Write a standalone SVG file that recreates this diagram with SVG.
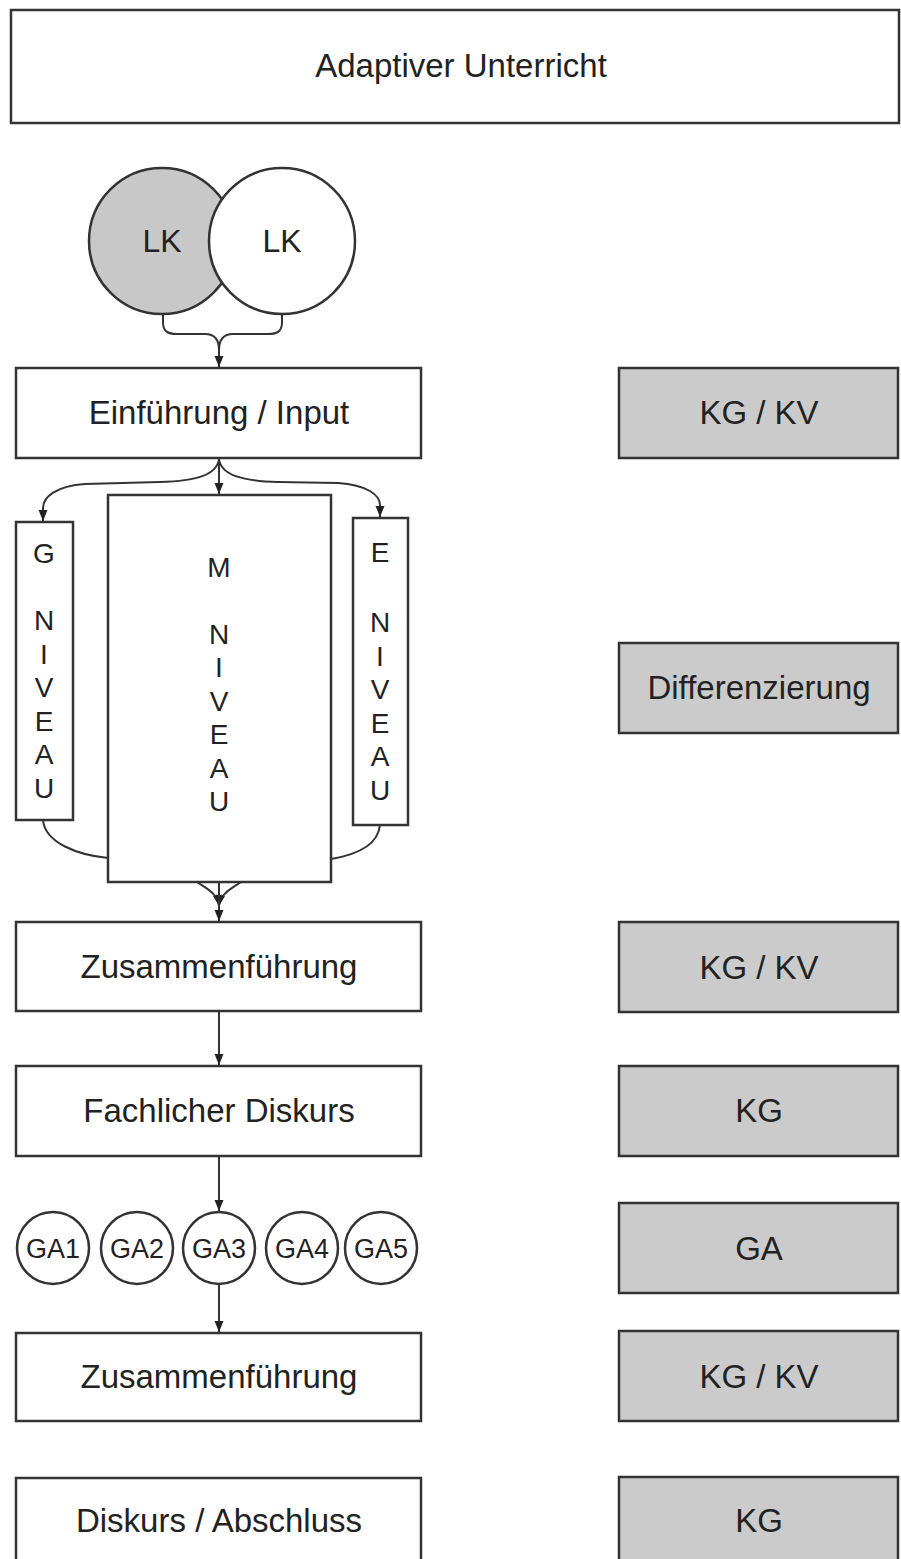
<svg xmlns="http://www.w3.org/2000/svg" width="901" height="1559" viewBox="0 0 901 1559">
<style>
.box{fill:#fff;stroke:#333;stroke-width:2.5}
.gray{fill:#cbcbcb;stroke:#333;stroke-width:2.5}
.t{font-family:"Liberation Sans",Arial,sans-serif;font-size:33px;fill:#222;text-anchor:middle}
.c{font-family:"Liberation Sans",Arial,sans-serif;font-size:28px;fill:#222;text-anchor:middle}
.ga{font-family:"Liberation Sans",Arial,sans-serif;font-size:27px;fill:#222;text-anchor:middle}
.ln{fill:none;stroke:#333;stroke-width:2}
</style>
<defs>
<marker id="ah" markerUnits="userSpaceOnUse" markerWidth="12" markerHeight="10" refX="11" refY="4.5" orient="auto">
<path d="M0,0 L11,4.5 L0,9 z" fill="#222"/>
</marker>
</defs>
<rect width="901" height="1559" fill="#fff"/>
<g id="adaptiver"><rect class="box" x="11" y="10" width="888" height="113"/><text class="t" x="461" y="77">Adaptiver Unterricht</text></g>
<g id="lk1"><circle cx="162" cy="241" r="73" fill="#c8c8c8" stroke="#333" stroke-width="2.5"/><text class="t" x="162" y="252" style="font-size:32px">LK</text></g>
<g id="lk2"><circle cx="282" cy="241" r="73" fill="#fff" stroke="#333" stroke-width="2.5"/><text class="t" x="282" y="252" style="font-size:32px">LK</text></g>
<g id="einfuehrung"><rect class="box" x="16" y="368" width="405" height="90"/><text class="t" x="219" y="424">Einführung / Input</text></g>
<g id="g-niveau"><rect class="box" x="16" y="522" width="57" height="298"/><text class="c"><tspan x="44" y="563">G</tspan><tspan x="44" y="630">N</tspan><tspan x="44" y="664">I</tspan><tspan x="44" y="697">V</tspan><tspan x="44" y="731">E</tspan><tspan x="44" y="764">A</tspan><tspan x="44" y="798">U</tspan></text></g>
<g id="m-niveau"><rect class="box" x="108" y="495" width="223" height="387"/><text class="c"><tspan x="219" y="577">M</tspan><tspan x="219" y="644">N</tspan><tspan x="219" y="677">I</tspan><tspan x="219" y="711">V</tspan><tspan x="219" y="744">E</tspan><tspan x="219" y="778">A</tspan><tspan x="219" y="811">U</tspan></text></g>
<g id="e-niveau"><rect class="box" x="353" y="518" width="55" height="307"/><text class="c"><tspan x="380" y="562">E</tspan><tspan x="380" y="632">N</tspan><tspan x="380" y="666">I</tspan><tspan x="380" y="699">V</tspan><tspan x="380" y="733">E</tspan><tspan x="380" y="766">A</tspan><tspan x="380" y="800">U</tspan></text></g>
<g id="zus1"><rect class="box" x="16" y="922" width="405" height="89"/><text class="t" x="219" y="978">Zusammenführung</text></g>
<g id="fach"><rect class="box" x="16" y="1066" width="405" height="90"/><text class="t" x="219" y="1122">Fachlicher Diskurs</text></g>
<g id="ga1"><circle cx="53" cy="1248" r="36" class="box"/><text class="ga" x="53" y="1258">GA1</text></g>
<g id="ga2"><circle cx="137" cy="1248" r="36" class="box"/><text class="ga" x="137" y="1258">GA2</text></g>
<g id="ga3"><circle cx="219" cy="1248" r="36" class="box"/><text class="ga" x="219" y="1258">GA3</text></g>
<g id="ga4"><circle cx="302" cy="1248" r="36" class="box"/><text class="ga" x="302" y="1258">GA4</text></g>
<g id="ga5"><circle cx="381" cy="1248" r="36" class="box"/><text class="ga" x="381" y="1258">GA5</text></g>
<g id="zus2"><rect class="box" x="16" y="1333" width="405" height="88"/><text class="t" x="219" y="1388">Zusammenführung</text></g>
<g id="diskurs"><rect class="box" x="16" y="1478" width="405" height="100"/><text class="t" x="219" y="1532">Diskurs / Abschluss</text></g>
<g id="r1"><rect class="gray" x="619" y="368" width="279" height="90"/><text class="t" x="759" y="424">KG / KV</text></g>
<g id="r2"><rect class="gray" x="619" y="643" width="279" height="90"/><text class="t" x="759" y="699">Differenzierung</text></g>
<g id="r3"><rect class="gray" x="619" y="922" width="279" height="90"/><text class="t" x="759" y="979">KG / KV</text></g>
<g id="r4"><rect class="gray" x="619" y="1066" width="279" height="90"/><text class="t" x="759" y="1122">KG</text></g>
<g id="r5"><rect class="gray" x="619" y="1203" width="279" height="90"/><text class="t" x="759" y="1260">GA</text></g>
<g id="r6"><rect class="gray" x="619" y="1331" width="279" height="90"/><text class="t" x="759" y="1388">KG / KV</text></g>
<g id="r7"><rect class="gray" x="619" y="1477" width="279" height="100"/><text class="t" x="759" y="1532">KG</text></g>
<g id="connectors">
<path class="ln" d="M163,314 L163,322 C163,331 167,334 177,334 L205,334 C215,334 219,340 219,350 L219,367" marker-end="url(#ah)"/>
<path class="ln" d="M282,314 L282,322 C282,331 278,334 268,334 L233,334 C223,334 219,340 219,350"/>
<path class="ln" d="M219,459 L219,494" marker-end="url(#ah)"/>
<path class="ln" d="M219,459 C217,475 196,481 160,482 L85,484 C56,486 43,497 43,508 L43,521" marker-end="url(#ah)"/>
<path class="ln" d="M219,459 C221,475 242,481 278,482 L338,483 C367,485 380,495 380,505 L380,517" marker-end="url(#ah)"/>
<path class="ln" d="M43,820 C45,843 78,855 108,858"/>
<path class="ln" d="M380,825 C378,846 355,855 331,859"/>
<path class="ln" d="M197,882 C207,889 217,893 219,906" marker-end="url(#ah)"/>
<path class="ln" d="M241,882 C231,889 221,893 219,906" marker-end="url(#ah)"/>
<path class="ln" d="M219,882 L219,921" marker-end="url(#ah)"/>
<path class="ln" d="M219,1011 L219,1065" marker-end="url(#ah)"/>
<path class="ln" d="M219,1156 L219,1211" marker-end="url(#ah)"/>
<path class="ln" d="M219,1284 L219,1332" marker-end="url(#ah)"/>
</g>
</svg>
